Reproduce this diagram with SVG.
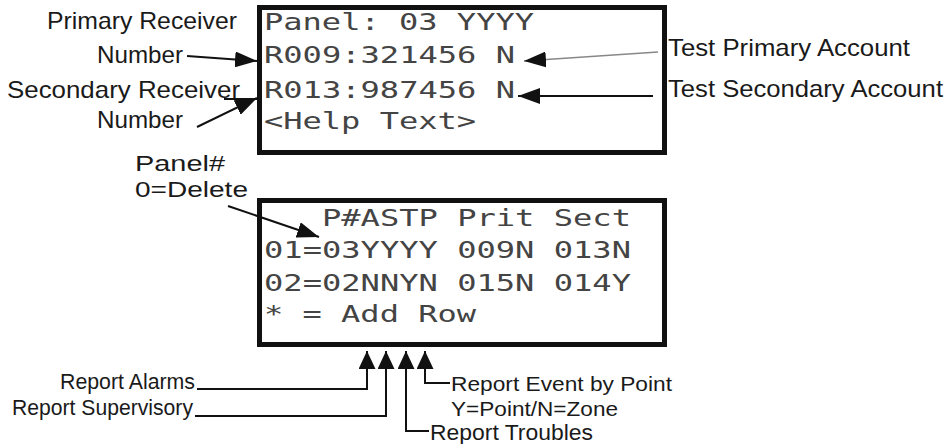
<svg xmlns="http://www.w3.org/2000/svg" width="951" height="444" viewBox="0 0 951 444">
<style>
.box{fill:#fff;stroke:#111;stroke-width:5}
.lcd{font-family:"DejaVu Sans Mono","Liberation Mono",monospace;font-size:23px;fill:#444}
.lbl{font-family:"Liberation Sans",Arial,sans-serif;font-size:24px;fill:#1a1a1a}
.lbs{font-family:"Liberation Sans",Arial,sans-serif;font-size:22px;fill:#1a1a1a}
.lbe{font-family:"Liberation Sans",Arial,sans-serif;font-size:21px;fill:#1a1a1a}
.big{font-family:"Liberation Sans",Arial,sans-serif;font-size:22px;fill:#1a1a1a}
.ln{fill:none;stroke:#111;stroke-width:2}
.thin{fill:none;stroke:#888;stroke-width:1.5}
</style>
<defs>
<marker id="ah" markerUnits="userSpaceOnUse" markerWidth="22" markerHeight="16" refX="22" refY="8" orient="auto">
<path d="M0,0 L22,8 L0,16 z" fill="#111"/>
</marker>
<marker id="au" markerUnits="userSpaceOnUse" markerWidth="18" markerHeight="17" refX="18" refY="8.5" orient="auto">
<path d="M0,0 L18,8.5 L0,17 z" fill="#111"/>
</marker>
</defs>
<rect width="951" height="444" fill="#fff"/>

<g id="panel-screen">
<rect class="box" x="259.5" y="7.5" width="405" height="145"/>
<text class="lcd" x="264" y="30" textLength="270" lengthAdjust="spacingAndGlyphs">Panel: 03 YYYY</text>
<text class="lcd" x="264" y="63" textLength="251" lengthAdjust="spacingAndGlyphs">R009:321456 N</text>
<text class="lcd" x="264" y="98" textLength="251" lengthAdjust="spacingAndGlyphs">R013:987456 N</text>
<text class="lcd" x="264" y="129" textLength="212" lengthAdjust="spacingAndGlyphs">&lt;Help Text&gt;</text>
</g>

<g id="table-screen">
<rect class="box" x="259.5" y="200.5" width="405" height="144"/>
<text class="lcd" x="322" y="226" textLength="309" lengthAdjust="spacingAndGlyphs">P#ASTP Prit Sect</text>
<text class="lcd" x="264" y="258" textLength="367" lengthAdjust="spacingAndGlyphs">01=03YYYY 009N 013N</text>
<text class="lcd" x="264" y="291" textLength="367" lengthAdjust="spacingAndGlyphs">02=02NNYN 015N 014Y</text>
<text class="lcd" x="264" y="322" textLength="212" lengthAdjust="spacingAndGlyphs">* = Add Row</text>
</g>

<g id="label-primary-receiver">
<text class="lbl" x="47" y="29" textLength="190" lengthAdjust="spacingAndGlyphs">Primary Receiver</text>
<text class="lbl" x="97" y="63" textLength="86" lengthAdjust="spacingAndGlyphs">Number</text>
</g>
<g id="label-secondary-receiver">
<text class="lbl" x="7" y="98" textLength="233" lengthAdjust="spacingAndGlyphs">Secondary Receiver</text>
<text class="lbl" x="97" y="128" textLength="86" lengthAdjust="spacingAndGlyphs">Number</text>
</g>
<g id="label-test-primary">
<text class="lbl" x="668" y="56" textLength="242" lengthAdjust="spacingAndGlyphs">Test Primary Account</text>
</g>
<g id="label-test-secondary">
<text class="lbl" x="668" y="97" textLength="275" lengthAdjust="spacingAndGlyphs">Test Secondary Account</text>
</g>
<g id="label-panel-number">
<text class="big" x="135" y="171" textLength="90" lengthAdjust="spacingAndGlyphs">Panel#</text>
<text class="big" x="135" y="197" textLength="113" lengthAdjust="spacingAndGlyphs">0=Delete</text>
</g>
<g id="label-alarms">
<text class="lbs" x="60" y="389" textLength="135" lengthAdjust="spacingAndGlyphs">Report Alarms</text>
</g>
<g id="label-supervisory">
<text class="lbs" x="12" y="415" textLength="181" lengthAdjust="spacingAndGlyphs">Report Supervisory</text>
</g>
<g id="label-event">
<text class="lbe" x="451" y="391" textLength="221" lengthAdjust="spacingAndGlyphs">Report Event by Point</text>
<text class="lbe" x="451" y="416" textLength="167" lengthAdjust="spacingAndGlyphs">Y=Point/N=Zone</text>
</g>
<g id="label-troubles">
<text class="lbs" x="430" y="440" textLength="163" lengthAdjust="spacingAndGlyphs">Report Troubles</text>
</g>

<g id="connectors">
<line class="ln" x1="187" y1="56" x2="257" y2="61" marker-end="url(#ah)"/>
<line class="ln" x1="224" y1="99" x2="257" y2="99"/>
<line class="ln" x1="197" y1="127" x2="257" y2="98" marker-end="url(#ah)"/>
<line class="thin" x1="658" y1="52" x2="524" y2="61" marker-end="url(#ah)"/>
<line class="ln" x1="653" y1="96" x2="518" y2="96" marker-end="url(#ah)"/>
<line class="ln" x1="228" y1="206" x2="319" y2="237" marker-end="url(#ah)"/>
<polyline class="ln" points="197,389 367,389 367,351" marker-end="url(#au)"/>
<polyline class="ln" points="195,416 386,416 386,351" marker-end="url(#au)"/>
<polyline class="ln" points="429,431 406,431 406,351" marker-end="url(#au)"/>
<polyline class="ln" points="450,383 425,383 425,351" marker-end="url(#au)"/>
</g>
</svg>
